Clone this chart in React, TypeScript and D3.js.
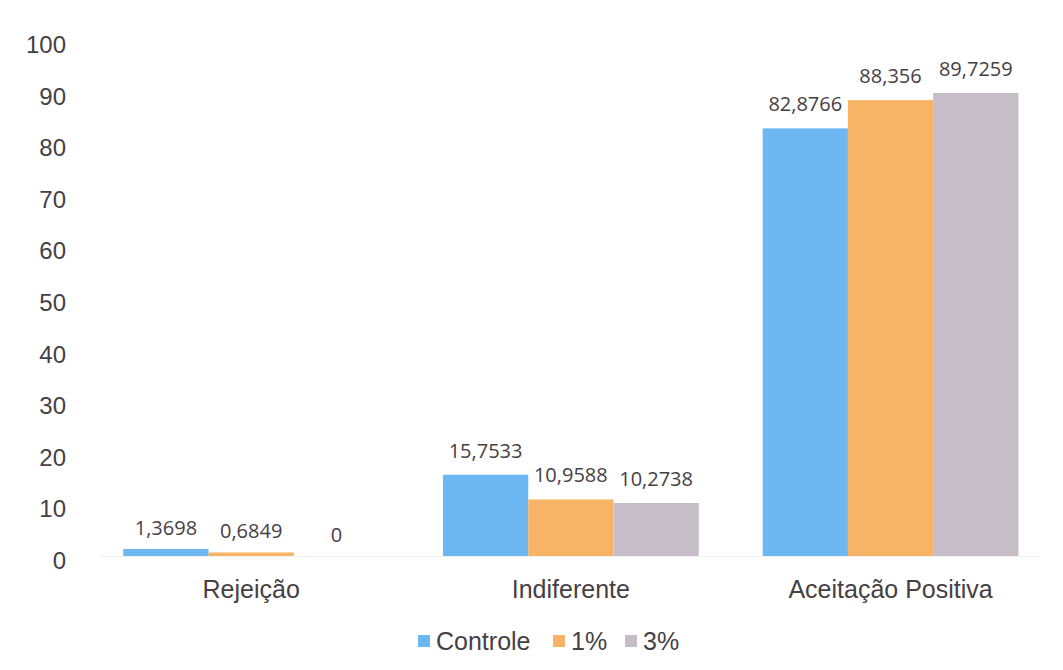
import React from "react";
import * as d3 from "d3";

const categories = ["Rejeição", "Indiferente", "Aceitação Positiva"];
const seriesNames = ["Controle", "1%", "3%"];
const controle = [1.3698, 15.7533, 82.8766];
const pct1 = [0.6849, 10.9588, 88.356];
const pct3 = [0, 10.2738, 89.7259];
const valueLabels = [
  ["1,3698", "15,7533", "82,8766"],
  ["0,6849", "10,9588", "88,356"],
  ["0", "10,2738", "89,7259"],
];
const yTicks = [0, 10, 20, 30, 40, 50, 60, 70, 80, 90, 100];
const colors = ["#6DB8F2", "#F8B466", "#C6BDC8"];

const W = 1063;
const H = 670;

export default function App() {
  const series = [controle, pct1, pct3];
  const x = d3.scaleBand<string>().domain(categories).range([91.3, 1050.4]).paddingInner(0.2).paddingOuter(0.1);
  const xs = d3.scaleBand<string>().domain(seriesNames).range([0, x.bandwidth()]);
  const y = d3.scaleLinear().domain([0, 100]).range([556, 40]);
  const textColor = "#464044";
  const arial = "'Liberation Sans', Arial, sans-serif";

  const legendX = [418, 553, 625];
  const legendY = 641;

  return (
    <svg width={W} height={H} style={{ position: "absolute", left: 0, top: 0, background: "#fff" }}>
      <rect x={0} y={0} width={W} height={H} fill="#fff" />
      <line x1={100} x2={1040} y1={y(0) + 0.5} y2={y(0) + 0.5} stroke="#F0F0EE" strokeWidth={1} />
      {yTicks.map((t) => (
        <text key={t} x={66} y={y(t) + 13} textAnchor="end" fontFamily={arial} fontSize={24} fill={textColor}>
          {t}
        </text>
      ))}
      {categories.map((c, ci) => (
        <g key={c} transform={`translate(${x(c)},0)`}>
          {series.map((s, si) => (
            <g key={si}>
              <rect
                x={xs(seriesNames[si])}
                y={y(s[ci])}
                width={xs.bandwidth()}
                height={y(0) - y(s[ci])}
                fill={colors[si]}
              />
              <text
                x={(xs(seriesNames[si]) as number) + xs.bandwidth() / 2}
                y={y(s[ci]) - (s[ci] < 5 ? 14 : 17)}
                textAnchor="middle"
                fontFamily="'Open Sans', sans-serif"
                fontSize={20}
                fill={textColor}
              >
                {valueLabels[si][ci]}
              </text>
            </g>
          ))}
          <text
            x={x.bandwidth() / 2}
            y={598}
            textAnchor="middle"
            fontFamily={arial}
            fontSize={25}
            fill={textColor}
          >
            {c}
          </text>
        </g>
      ))}
      {seriesNames.map((n, i) => (
        <g key={n}>
          <rect x={legendX[i]} y={legendY - 6} width={12} height={12} fill={colors[i]} />
          <text x={legendX[i] + 18} y={legendY + 9} fontFamily={arial} fontSize={25} fill={textColor}>
            {n}
          </text>
        </g>
      ))}
    </svg>
  );
}
